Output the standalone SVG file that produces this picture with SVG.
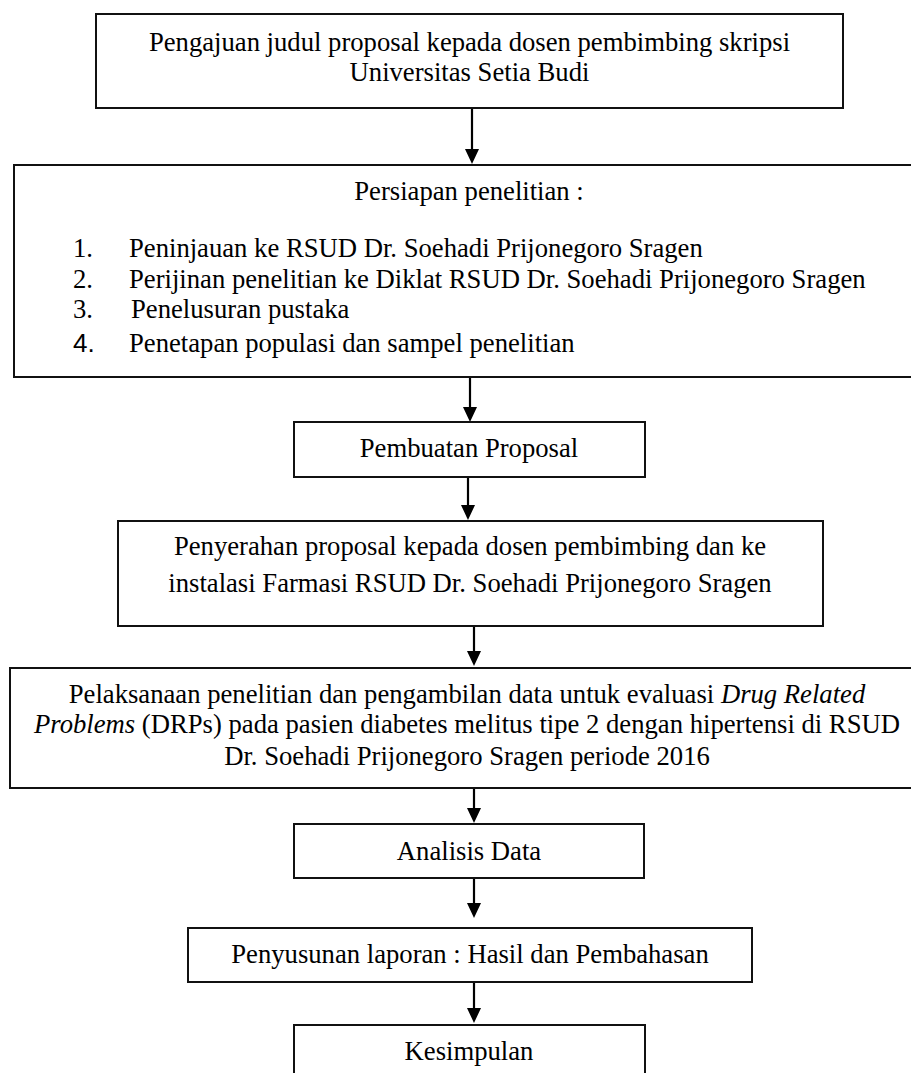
<svg xmlns="http://www.w3.org/2000/svg" width="911" height="1073" viewBox="0 0 911 1073">
<style>
.box{fill:#fff;stroke:#111;stroke-width:2}
.t{font-family:"Liberation Serif","Times New Roman",serif;font-size:26.67px;fill:#000}
.c{text-anchor:middle}
.s{font-family:"Liberation Sans",Arial,sans-serif;font-size:26px;fill:#000}
.conn{stroke:#000;stroke-width:2.2;fill:none;marker-end:url(#ah)}
</style>
<defs>
<marker id="ah" markerUnits="userSpaceOnUse" viewBox="0 0 15 14" refX="3" refY="7" markerWidth="15" markerHeight="14" orient="auto">
<path d="M0,0 L15,7 L0,14 z" fill="#000"/>
</marker>
</defs>
<rect width="911" height="1073" fill="#fff"/>
<g id="connectors">
<path class="conn" d="M472,108 V152"/>
<path class="conn" d="M470,377 V410"/>
<path class="conn" d="M468,477 V508"/>
<path class="conn" d="M474,626 V654"/>
<path class="conn" d="M474,788 V811"/>
<path class="conn" d="M474,878 V906"/>
<path class="conn" d="M474,982 V1011"/>
</g>
<g id="n1">
<rect class="box" x="96" y="14" width="747" height="94"/>
<text class="t c" x="469.5" y="51">Pengajuan judul proposal kepada dosen pembimbing skripsi</text>
<text class="t c" x="469.5" y="81">Universitas Setia Budi</text>
</g>
<g id="n2">
<rect class="box" x="14" y="165" width="912" height="212"/>
<text class="t c" x="469" y="200">Persiapan penelitian :</text>
<text class="t" x="73" y="257">1.</text>
<text class="t" x="129" y="257">Peninjauan ke RSUD Dr. Soehadi Prijonegoro Sragen</text>
<text class="t" x="73" y="288">2.</text>
<text class="t" x="129" y="288">Perijinan penelitian ke Diklat RSUD Dr. Soehadi Prijonegoro Sragen</text>
<text class="t" x="73" y="318">3.</text>
<text class="t" x="131" y="318">Penelusuran pustaka</text>
<text class="s" x="73" y="352">4.</text>
<text class="t" x="129" y="352">Penetapan populasi dan sampel penelitian</text>
</g>
<g id="n3">
<rect class="box" x="294" y="422" width="351" height="55"/>
<text class="t c" x="469" y="457">Pembuatan Proposal</text>
</g>
<g id="n4">
<rect class="box" x="118" y="521" width="705" height="105"/>
<text class="t c" x="470" y="555">Penyerahan proposal kepada dosen pembimbing dan ke</text>
<text class="t c" x="470" y="592">instalasi Farmasi RSUD Dr. Soehadi Prijonegoro Sragen</text>
</g>
<g id="n5">
<rect class="box" x="10" y="668" width="914" height="120"/>
<text class="t c" x="467" y="703">Pelaksanaan penelitian dan pengambilan data untuk evaluasi <tspan font-style="italic">Drug Related</tspan></text>
<text class="t c" x="467" y="733"><tspan font-style="italic">Problems</tspan> (DRPs) pada pasien diabetes melitus tipe 2 dengan hipertensi di RSUD</text>
<text class="t c" x="467" y="765">Dr. Soehadi Prijonegoro Sragen periode 2016</text>
</g>
<g id="n6">
<rect class="box" x="294" y="824" width="350" height="54"/>
<text class="t c" x="469" y="860">Analisis Data</text>
</g>
<g id="n7">
<rect class="box" x="188" y="928" width="564" height="54"/>
<text class="t c" x="470" y="963">Penyusunan laporan : Hasil dan Pembahasan</text>
</g>
<g id="n8">
<rect class="box" x="294" y="1025" width="351" height="60"/>
<text class="t c" x="469" y="1060">Kesimpulan</text>
</g>
</svg>
